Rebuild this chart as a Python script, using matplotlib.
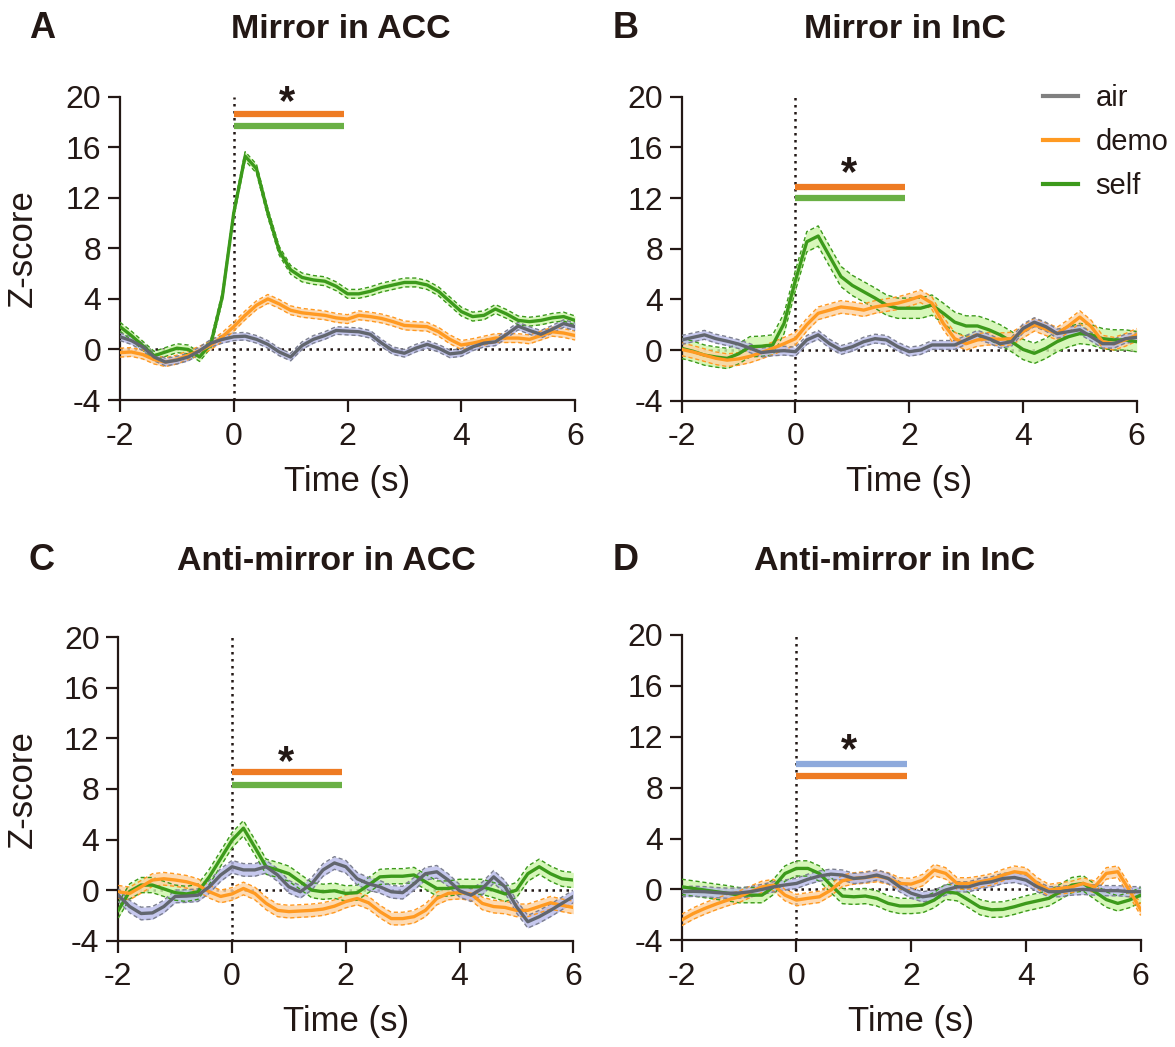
import numpy as np
import matplotlib
matplotlib.use("Agg")
import matplotlib.pyplot as plt
from matplotlib.transforms import offset_copy

plt.rcParams['font.family'] = ['Liberation Sans', 'DejaVu Sans']
plt.rcParams['axes.unicode_minus'] = False
INK = '#231815'

# time axis, 0.2 s bins
t = np.round(np.arange(-2, 6.001, 0.2), 1)

# ---- A: Mirror in ACC
a_self = [1.8, 1.1, 0.3, -0.5, -0.2, 0.1, 0.0, -0.6, 0.5, 4.2, 10.8, 15.3, 14.3, 10.8, 7.8,
          6.3, 5.7, 5.5, 5.4, 5.0, 4.4, 4.4, 4.6, 4.9, 5.1, 5.3, 5.3, 5.1, 4.6, 3.8,
          3.0, 2.6, 2.7, 3.2, 2.8, 2.3, 2.2, 2.3, 2.5, 2.6, 2.3]
a_demo = [-0.25, -0.2, -0.4, -0.8, -1.0, -0.8, -0.45, -0.1, 0.35, 1.0, 1.8, 2.7, 3.5, 4.0, 3.6,
          3.1, 2.9, 2.8, 2.7, 2.5, 2.4, 2.7, 2.6, 2.45, 2.2, 1.9, 1.85, 1.8, 1.4, 0.8,
          0.35, 0.5, 0.7, 0.9, 0.9, 0.9, 0.8, 1.1, 1.4, 1.3, 1.1]
a_air = [1.0, 0.7, 0.2, -0.6, -1.0, -0.85, -0.6, -0.1, 0.5, 0.8, 1.0, 1.05, 0.8, 0.4, -0.2,
         -0.6, 0.3, 0.8, 1.1, 1.5, 1.45, 1.4, 1.2, 0.5, -0.1, -0.3, 0.1, 0.4, 0.1, -0.35,
         -0.25, 0.2, 0.5, 0.6, 1.2, 1.85, 1.5, 1.2, 1.6, 2.05, 1.8]

# ---- B: Mirror in InC
b_self = [0.13, -0.1, -0.4, -0.55, -0.66, -0.3, 0.26, 0.3, 0.4, 2.1, 5.5, 8.55, 9.0, 7.4, 5.8,
          5.1, 4.6, 4.1, 3.55, 3.3, 3.3, 3.3, 3.55, 2.9, 2.2, 1.9, 1.9, 1.6, 1.2, 0.66,
          0.05, -0.26, 0.13, 0.66, 1.05, 1.3, 1.2, 0.9, 0.8, 0.8, 0.66]
b_demo = [0.05, -0.15, -0.4, -0.65, -0.8, -0.7, -0.5, -0.2, 0.13, 0.5, 0.9, 2.0, 2.9, 3.15, 3.4,
          3.3, 3.15, 3.4, 3.55, 3.7, 3.95, 4.25, 3.7, 2.1, 0.9, 0.5, 0.8, 0.9, 0.85, 0.9,
          1.45, 2.0, 1.65, 1.3, 1.9, 2.6, 1.85, 0.66, 0.5, 0.8, 1.2]
b_air = [0.8, 1.0, 1.2, 0.9, 0.7, 0.47, 0.15, -0.2, -0.1, -0.05, -0.13, 0.8, 1.2, 0.5, 0.0,
         0.26, 0.66, 0.9, 0.8, 0.26, -0.13, 0.0, 0.4, 0.4, 0.4, 0.8, 1.2, 0.9, 0.5, 0.66,
         1.7, 2.2, 1.85, 1.3, 1.45, 1.6, 1.05, 0.5, 0.5, 0.9, 1.0]

# ---- C: Anti-mirror in ACC
c_self = [-1.6, -0.1, 0.4, 0.4, 0.1, -0.2, -0.3, -0.13, 1.05, 2.5, 3.95, 4.9, 3.4, 1.85, 1.6,
          1.3, 0.66, 0.0, -0.13, -0.05, -0.26, -0.2, 0.4, 1.05, 1.1, 1.1, 1.2, 0.66, 0.13, 0.13,
          0.26, 0.26, 0.26, 0.0, -0.3, 0.0, 1.3, 1.85, 1.3, 0.9, 0.8]
c_demo = [-0.13, -0.26, 0.26, 0.8, 0.9, 0.8, 0.66, 0.4, -0.13, -0.5, -0.3, 0.13, -0.26, -1.05, -1.6,
          -1.7, -1.65, -1.6, -1.5, -1.27, -0.9, -0.66, -1.0, -1.7, -2.25, -2.25, -2.1, -1.6, -0.66, -0.26,
          -0.2, -0.3, -1.05, -1.3, -1.37, -1.6, -1.6, -1.3, -1.0, -1.2, -1.37]
c_air = [-0.4, -1.3, -1.85, -1.8, -1.3, -0.5, -0.47, -0.4, 0.26, 1.2, 1.85, 1.6, 1.6, 1.85, 1.2,
         0.26, -0.13, 0.5, 1.6, 2.15, 1.85, 0.9, 0.5, 0.26, -0.13, -0.2, 0.5, 1.3, 1.45, 0.8,
         -0.05, -0.4, 0.13, 1.05, 0.26, -1.3, -2.5, -2.1, -1.6, -1.05, -0.5]

# ---- D: Anti-mirror in InC
d_self = [0.2, 0.08, -0.05, -0.18, -0.3, -0.45, -0.45, -0.45, 0.2, 1.25, 1.65, 1.65, 1.25, 0.34, -0.52,
          -0.58, -0.52, -0.7, -1.1, -1.3, -1.3, -1.23, -0.84, -0.18, -0.3, -0.84, -1.4, -1.6, -1.57, -1.36,
          -1.1, -0.9, -0.7, -0.18, 0.34, 0.47, -0.18, -0.8, -1.1, -0.84, -0.45]
d_demo = [-2.4, -1.9, -1.5, -1.15, -0.84, -0.58, -0.18, 0.2, 0.34, -0.45, -0.84, -0.7, -0.58, -0.05, 0.68,
          0.86, 0.94, 1.05, 0.86, 0.47, 0.42, 0.73, 1.52, 1.26, 0.47, 0.47, 0.6, 0.79, 1.13, 1.39,
          1.26, 0.47, -0.05, 0.08, 0.2, 0.47, 0.2, 1.26, 1.39, -0.05, -1.6]
d_air = [-0.18, -0.15, -0.18, -0.25, -0.3, -0.28, -0.18, 0.0, 0.2, 0.35, 0.47, 0.8, 1.05, 1.2, 1.13,
         0.86, 0.94, 1.13, 0.86, 0.2, -0.3, -0.58, -0.45, -0.05, 0.2, 0.2, 0.47, 0.6, 0.86, 0.94,
         0.73, 0.2, -0.18, -0.18, -0.05, 0.0, -0.05, -0.1, -0.1, -0.18, -0.18]

# SEM half-widths (self, demo, air)
sem_a = [0.35, 0.35, 0.3]
sem_b = [0.8, 0.5, 0.35]
sem_c = [0.6, 0.5, 0.5]
sem_d = [0.6, 0.45, 0.4]

titles = ['Mirror in ACC', 'Mirror in InC', 'Anti-mirror in ACC', 'Anti-mirror in InC']
letters = ['A', 'B', 'C', 'D']
labels = ['self', 'demo', 'air']

# significance bars: (y value, colour key) top to bottom, window 0-1.93 s
sig_window = [0, 1.93]
sig_bars = [[(18.6, 'demo'), (17.65, 'self')],
            [(12.9, 'demo'), (12.0, 'self')],
            [(9.35, 'demo'), (8.3, 'self')],
            [(9.85, 'air'), (8.9, 'demo')]]
star_pos = [(0.93, 20.5), (0.94, 14.9), (0.95, 11.1), (0.92, 11.9)]

line_col = {'self': '#3c9a1b', 'demo': '#ff9a22', 'air': '#62666e'}
fill_col = {'self': '#cdf5a9', 'demo': '#fdd2a3', 'air': '#b8bbea'}
edge_col = {'self': '#3c9a1b', 'demo': '#ff9a22', 'air': '#7d8090'}
bar_col = {'self': '#6ab045', 'demo': '#ee7b23', 'air': '#8eaadc'}

panels = [(a_self, a_demo, a_air, sem_a), (b_self, b_demo, b_air, sem_b),
          (c_self, c_demo, c_air, sem_c), (d_self, d_demo, d_air, sem_d)]

W, H = 1175, 1047
fig = plt.figure(figsize=(W / 100, H / 100), dpi=100)

# axes boxes in pixels: left, top(y=20), right, bottom(y=-4)
boxes = [(120, 96.7, 575, 400), (681.7, 96.7, 1136.7, 400.7),
         (118.3, 637.3, 573.3, 940.7), (681.7, 635, 1140.7, 940.3)]
title_x = [341, 905, 326, 895]
head_y = [30, 30, 561, 561]

axes = []
for i, (l, tp, r, b) in enumerate(boxes):
    ax = fig.add_axes([l / W, 1 - b / H, (r - l) / W, (b - tp) / H])
    axes.append(ax)
    ax.set_facecolor('none')
    series = panels[i][:3]
    sems = panels[i][3]
    for name, y, s in zip(labels, series, sems):
        y = np.array(y)
        ax.fill_between(t, y - s, y + s, color=fill_col[name], alpha=0.8, lw=0, zorder=2)
        ax.plot(t, y - s, color=edge_col[name], lw=1.0, ls=(0, (3, 2)), zorder=3)
        ax.plot(t, y + s, color=edge_col[name], lw=1.0, ls=(0, (3, 2)), zorder=3)
        ax.plot(t, y, color=line_col[name], lw=2.4, zorder=4, label=name)

    ax.axvline(0, color=INK, lw=1.8, ls=(0, (1, 1.8)), zorder=1)
    ax.axhline(0, color=INK, lw=1.8, ls=(0, (1, 1.8)), zorder=1)

    for yv, key in sig_bars[i]:
        ax.plot(sig_window, [yv, yv], color=bar_col[key], lw=4.5, solid_capstyle='butt', zorder=5)
    sx, sy = star_pos[i]
    tr = offset_copy(ax.transData, fig=fig, y=-0.58 * 30, units='points')
    ax.text(sx, sy, '*', transform=tr, ha='center', va='baseline', fontsize=30,
            fontweight='bold', color=INK)

    ax.set_xlim(-2, 6)
    ax.set_ylim(-4, 20)
    ax.set_xticks([-2, 0, 2, 4, 6])
    ax.set_yticks([-4, 0, 4, 8, 12, 16, 20])
    for sp in ['top', 'right']:
        ax.spines[sp].set_visible(False)
    for sp in ['left', 'bottom']:
        ax.spines[sp].set_linewidth(1.6)
        ax.spines[sp].set_color(INK)
    ax.tick_params(axis='both', direction='out', length=8.5, width=1.6, color=INK,
                   labelcolor=INK, labelsize=23)
    ax.tick_params(axis='x', pad=7)
    ax.tick_params(axis='y', pad=5)

    cx = (l + r) / 2
    fig.text(cx / W, 1 - (b + 81) / H, 'Time (s)', ha='center', va='center',
             fontsize=25, color=INK)
    fig.text(title_x[i] / W, 1 - head_y[i] / H, titles[i], ha='center', va='center',
             fontsize=24.5, fontweight='bold', color=INK)
    fig.text((42 if i % 2 == 0 else 626) / W, 1 - (head_y[i] - 1) / H, letters[i],
             ha='center', va='center', fontsize=26, fontweight='bold', color=INK)
    if i % 2 == 0:
        fig.text(22.5 / W, 1 - ((tp + b) / 2) / H, 'Z-score', rotation=90,
                 ha='center', va='center', fontsize=25, color=INK)

# legend in panel B
hs = [plt.Line2D([], [], color=c, lw=3) for c in ['#808080', '#ff9a22', '#3c9a1b']]
fig.legend(hs, ['air', 'demo', 'self'], loc='upper left',
           bbox_to_anchor=(1043 / W, 1 - 84 / H), frameon=False, fontsize=21,
           handlelength=1.2, handletextpad=0.6, labelspacing=0.55,
           borderpad=0, borderaxespad=0, labelcolor=INK)

fig.savefig('out.png', dpi=100, facecolor='white')
